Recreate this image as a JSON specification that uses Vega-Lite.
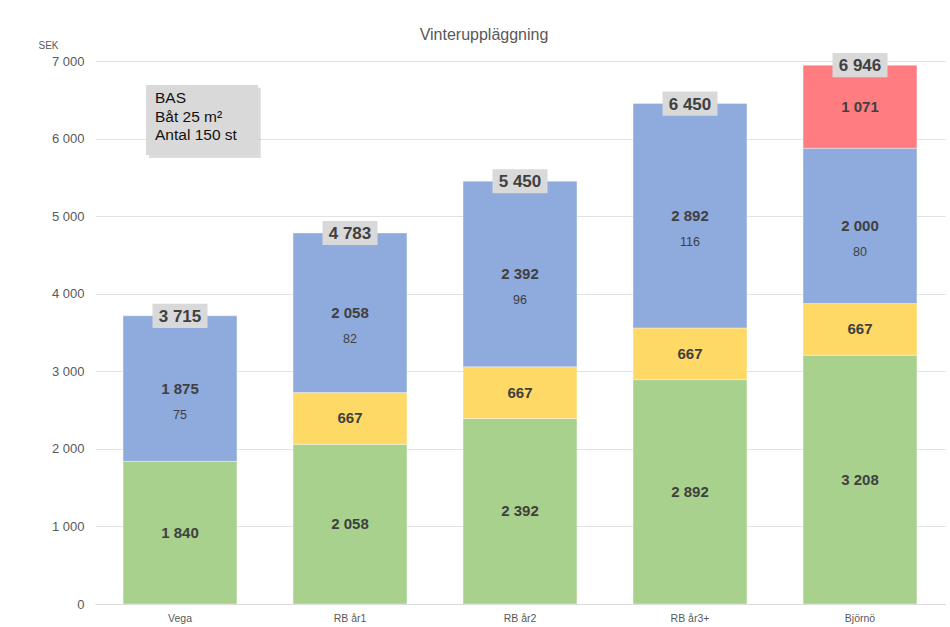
{
  "$schema": "https://vega.github.io/schema/vega-lite/v6.json",
  "width": 850,
  "height": 543,
  "autosize": {"type": "none"},
  "padding": {"left": 95, "top": 61, "right": 5, "bottom": 23},
  "background": "white",
  "title": {
    "text": "Vinteruppläggning",
    "font": "Liberation Sans",
    "fontSize": 16,
    "fontWeight": "normal",
    "color": "#595959",
    "anchor": "middle",
    "dx": -36,
    "offset": -3
  },
  "datasets": {
    "segs": [
      {"cat": "Vega", "seg": "Del 1", "ord": 1, "value": 1840},
      {"cat": "Vega", "seg": "Del 3", "ord": 3, "value": 1875, "sub": "75"},
      {"cat": "RB år1", "seg": "Del 1", "ord": 1, "value": 2058},
      {"cat": "RB år1", "seg": "Del 2", "ord": 2, "value": 667},
      {"cat": "RB år1", "seg": "Del 3", "ord": 3, "value": 2058, "sub": "82"},
      {"cat": "RB år2", "seg": "Del 1", "ord": 1, "value": 2392},
      {"cat": "RB år2", "seg": "Del 2", "ord": 2, "value": 667},
      {"cat": "RB år2", "seg": "Del 3", "ord": 3, "value": 2392, "sub": "96"},
      {"cat": "RB år3+", "seg": "Del 1", "ord": 1, "value": 2892},
      {"cat": "RB år3+", "seg": "Del 2", "ord": 2, "value": 667},
      {"cat": "RB år3+", "seg": "Del 3", "ord": 3, "value": 2892, "sub": "116"},
      {"cat": "Björnö", "seg": "Del 1", "ord": 1, "value": 3208},
      {"cat": "Björnö", "seg": "Del 2", "ord": 2, "value": 667},
      {"cat": "Björnö", "seg": "Del 3", "ord": 3, "value": 2000, "sub": "80"},
      {"cat": "Björnö", "seg": "Del 4", "ord": 4, "value": 1071}
    ],
    "totals": [
      {"cat": "Vega", "total": 3715},
      {"cat": "RB år1", "total": 4783},
      {"cat": "RB år2", "total": 5450},
      {"cat": "RB år3+", "total": 6450},
      {"cat": "Björnö", "total": 6946}
    ]
  },
  "encoding": {
    "x": {
      "field": "cat",
      "type": "nominal",
      "sort": ["Vega", "RB år1", "RB år2", "RB år3+", "Björnö"],
      "scale": {"paddingInner": 0.33, "paddingOuter": 0.165},
      "axis": {
        "title": null,
        "labelAngle": 0,
        "ticks": false,
        "domain": true,
        "domainColor": "#d9d9d9",
        "labelFont": "Liberation Sans Narrow, Liberation Sans",
        "labelFontSize": 10.5,
        "labelColor": "#595959",
        "labelPadding": 9
      }
    }
  },
  "layer": [
    {
      "data": {"name": "segs"},
      "mark": {"type": "bar", "stroke": "#ffffff", "strokeOpacity": 0.35, "strokeWidth": 1},
      "encoding": {
        "y": {
          "field": "value",
          "type": "quantitative",
          "stack": "zero",
          "scale": {"domain": [0, 7000], "nice": false},
          "axis": {
            "values": [0, 1000, 2000, 3000, 4000, 5000, 6000, 7000],
            "format": ",d",
            "grid": true,
            "gridColor": "#e2e2e2",
            "domain": false,
            "ticks": false,
            "labelFont": "Liberation Sans",
            "labelFontSize": 13,
            "labelColor": "#595959",
            "labelPadding": 11,
            "title": "SEK",
            "titleAngle": 0,
            "titleAlign": "left",
            "titleBaseline": "alphabetic",
            "titleX": -57,
            "titleY": -13,
            "titleFont": "Liberation Sans",
            "titleFontSize": 10,
            "titleFontWeight": "normal",
            "titleColor": "#595959"
          }
        },
        "color": {
          "field": "seg",
          "type": "nominal",
          "scale": {
            "domain": ["Del 1", "Del 2", "Del 3", "Del 4"],
            "range": ["#a9d18e", "#ffd966", "#8faadc", "#ff7c80"]
          },
          "legend": null
        },
        "order": {"field": "ord", "type": "quantitative"}
      }
    },
    {
      "data": {"name": "segs"},
      "transform": [
        {"stack": "value", "groupby": ["cat"], "sort": [{"field": "ord"}], "as": ["y0", "y1"]},
        {"fold": ["y0", "y1"], "as": ["edge", "pos"]},
        {"aggregate": [{"op": "mean", "field": "pos", "as": "mid"}], "groupby": ["cat", "seg", "value", "sub"]}
      ],
      "mark": {"type": "text", "font": "Liberation Sans", "fontSize": 15, "fontWeight": "bold", "color": "#404040", "baseline": "middle"},
      "encoding": {
        "y": {"field": "mid", "type": "quantitative"},
        "text": {"field": "value", "type": "quantitative", "format": ",d"}
      }
    },
    {
      "data": {"name": "segs"},
      "transform": [
        {"stack": "value", "groupby": ["cat"], "sort": [{"field": "ord"}], "as": ["y0", "y1"]},
        {"fold": ["y0", "y1"], "as": ["edge", "pos"]},
        {"aggregate": [{"op": "mean", "field": "pos", "as": "mid"}], "groupby": ["cat", "seg", "sub"]},
        {"filter": "datum.sub != null"}
      ],
      "mark": {"type": "text", "font": "Liberation Sans", "fontSize": 12.5, "color": "#404040", "baseline": "middle", "dy": 26},
      "encoding": {
        "y": {"field": "mid", "type": "quantitative"},
        "text": {"field": "sub", "type": "nominal"}
      }
    },
    {
      "data": {"name": "totals"},
      "mark": {"type": "point", "shape": "M-1,-0.44H1V0.44H-1Z", "size": 3025, "filled": true, "fill": "#d9d9d9", "opacity": 1, "strokeWidth": 0},
      "encoding": {
        "y": {"field": "total", "type": "quantitative"}
      }
    },
    {
      "data": {"name": "totals"},
      "mark": {"type": "text", "font": "Liberation Sans", "fontSize": 17, "fontWeight": "bold", "color": "#404040", "baseline": "middle", "dy": 1},
      "encoding": {
        "y": {"field": "total", "type": "quantitative"},
        "text": {"field": "total", "type": "quantitative", "format": ",d"}
      }
    },
    {
      "data": {"values": [{}]},
      "mark": {"type": "point", "shape": "M-0.55,-0.57H1.43V0.67H-0.55Z", "size": 12769, "filled": true, "fill": "#9a9a9a", "opacity": 0.35, "strokeWidth": 0},
      "encoding": {
        "x": {"datum": "Vega", "type": "nominal"},
        "y": {"datum": 6239, "type": "quantitative"}
      }
    },
    {
      "data": {"values": [{}]},
      "mark": {"type": "point", "shape": "M-0.602,-0.619H1.381V0.619H-0.602Z", "size": 12769, "filled": true, "fill": "#d9d9d9", "opacity": 1, "strokeWidth": 0},
      "encoding": {
        "x": {"datum": "Vega", "type": "nominal"},
        "y": {"datum": 6239, "type": "quantitative"}
      }
    },
    {
      "data": {"values": [{}]},
      "mark": {
        "type": "text",
        "text": ["BAS", "Båt 25 m²", "Antal 150 st"],
        "font": "Liberation Sans",
        "fontSize": 15.5,
        "lineHeight": 18.5,
        "color": "#111111",
        "align": "left",
        "baseline": "middle",
        "dx": -25,
        "dy": -22
      },
      "encoding": {
        "x": {"datum": "Vega", "type": "nominal"},
        "y": {"datum": 6239, "type": "quantitative"}
      }
    }
  ],
  "config": {
    "locale": {
      "number": {"decimal": ",", "thousands": " ", "grouping": [3], "currency": ["", " kr"]}
    },
    "view": {"stroke": null}
  }
}
